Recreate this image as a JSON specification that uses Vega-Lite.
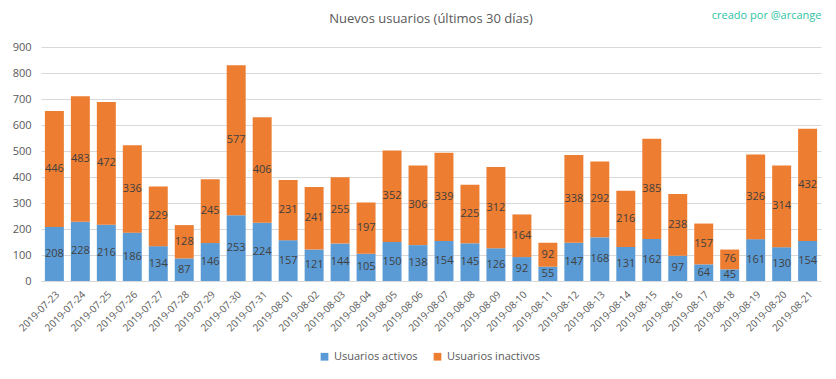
{
  "$schema": "https://vega.github.io/schema/vega-lite/v6.json",
  "autosize": {"type": "none"},
  "width": 780,
  "height": 234,
  "padding": {"left": 41, "top": 47, "right": 15, "bottom": 98},
  "background": "white",
  "title": {
    "text": "Nuevos usuarios (últimos 30 días)",
    "anchor": "middle",
    "font": "Open Sans",
    "fontSize": 13,
    "fontWeight": "normal",
    "color": "#595959",
    "offset": -17
  },
  "data": {
    "values": [
      {"date": "2019-07-23", "Usuarios activos": 208, "Usuarios inactivos": 446},
      {"date": "2019-07-24", "Usuarios activos": 228, "Usuarios inactivos": 483},
      {"date": "2019-07-25", "Usuarios activos": 216, "Usuarios inactivos": 472},
      {"date": "2019-07-26", "Usuarios activos": 186, "Usuarios inactivos": 336},
      {"date": "2019-07-27", "Usuarios activos": 134, "Usuarios inactivos": 229},
      {"date": "2019-07-28", "Usuarios activos": 87, "Usuarios inactivos": 128},
      {"date": "2019-07-29", "Usuarios activos": 146, "Usuarios inactivos": 245},
      {"date": "2019-07-30", "Usuarios activos": 253, "Usuarios inactivos": 577},
      {"date": "2019-07-31", "Usuarios activos": 224, "Usuarios inactivos": 406},
      {"date": "2019-08-01", "Usuarios activos": 157, "Usuarios inactivos": 231},
      {"date": "2019-08-02", "Usuarios activos": 121, "Usuarios inactivos": 241},
      {"date": "2019-08-03", "Usuarios activos": 144, "Usuarios inactivos": 255},
      {"date": "2019-08-04", "Usuarios activos": 105, "Usuarios inactivos": 197},
      {"date": "2019-08-05", "Usuarios activos": 150, "Usuarios inactivos": 352},
      {"date": "2019-08-06", "Usuarios activos": 138, "Usuarios inactivos": 306},
      {"date": "2019-08-07", "Usuarios activos": 154, "Usuarios inactivos": 339},
      {"date": "2019-08-08", "Usuarios activos": 145, "Usuarios inactivos": 225},
      {"date": "2019-08-09", "Usuarios activos": 126, "Usuarios inactivos": 312},
      {"date": "2019-08-10", "Usuarios activos": 92, "Usuarios inactivos": 164},
      {"date": "2019-08-11", "Usuarios activos": 55, "Usuarios inactivos": 92},
      {"date": "2019-08-12", "Usuarios activos": 147, "Usuarios inactivos": 338},
      {"date": "2019-08-13", "Usuarios activos": 168, "Usuarios inactivos": 292},
      {"date": "2019-08-14", "Usuarios activos": 131, "Usuarios inactivos": 216},
      {"date": "2019-08-15", "Usuarios activos": 162, "Usuarios inactivos": 385},
      {"date": "2019-08-16", "Usuarios activos": 97, "Usuarios inactivos": 238},
      {"date": "2019-08-17", "Usuarios activos": 64, "Usuarios inactivos": 157},
      {"date": "2019-08-18", "Usuarios activos": 45, "Usuarios inactivos": 76},
      {"date": "2019-08-19", "Usuarios activos": 161, "Usuarios inactivos": 326},
      {"date": "2019-08-20", "Usuarios activos": 130, "Usuarios inactivos": 314},
      {"date": "2019-08-21", "Usuarios activos": 154, "Usuarios inactivos": 432}
    ]
  },
  "transform": [
    {"fold": ["Usuarios activos", "Usuarios inactivos"], "as": ["tipo", "valor"]},
    {"stack": "valor", "groupby": ["date"], "sort": [{"field": "tipo"}], "as": ["y0", "y1"]},
    {"calculate": "(datum.y0 + datum.y1) / 2", "as": "ymid"}
  ],
  "encoding": {
    "x": {
      "field": "date",
      "type": "ordinal",
      "title": null,
      "scale": {"paddingInner": 0.27, "paddingOuter": 0.15},
      "axis": {
        "labelAngle": -45,
        "labelFont": "Open Sans",
        "labelFontSize": 10,
        "labelColor": "#595959",
        "ticks": false,
        "domainColor": "#d9d9d9",
        "labelPadding": 8
      }
    }
  },
  "layer": [
    {
      "mark": {"type": "bar"},
      "encoding": {
        "y": {
          "field": "y1",
          "type": "quantitative",
          "title": null,
          "scale": {"domain": [0, 900], "nice": false},
          "axis": {
            "values": [0, 100, 200, 300, 400, 500, 600, 700, 800, 900],
            "labelOverlap": false,
            "domain": false,
            "ticks": false,
            "gridColor": "#d9d9d9",
            "labelFont": "Open Sans",
            "labelFontSize": 11,
            "labelColor": "#595959",
            "labelPadding": 10
          }
        },
        "y2": {"field": "y0"},
        "color": {
          "field": "tipo",
          "type": "nominal",
          "scale": {"domain": ["Usuarios activos", "Usuarios inactivos"], "range": ["#5b9bd5", "#ed7d31"]},
          "legend": {
            "title": null,
            "orient": "none",
            "legendX": 278,
            "legendY": 304,
            "direction": "horizontal",
            "symbolType": "square",
            "symbolSize": 60,
            "symbolStrokeWidth": 0,
            "labelFont": "Open Sans",
            "labelFontSize": 11,
            "labelColor": "#595959",
            "columnPadding": 14
          }
        }
      }
    },
    {
      "mark": {"type": "text", "font": "Open Sans", "fontSize": 11, "color": "#404040", "baseline": "middle"},
      "encoding": {
        "y": {
          "field": "ymid",
          "type": "quantitative",
          "title": null,
          "scale": {"domain": [0, 900], "nice": false},
          "axis": {
            "values": [0, 100, 200, 300, 400, 500, 600, 700, 800, 900],
            "labelOverlap": false,
            "domain": false,
            "ticks": false,
            "gridColor": "#d9d9d9",
            "labelFont": "Open Sans",
            "labelFontSize": 11,
            "labelColor": "#595959",
            "labelPadding": 10
          }
        },
        "text": {"field": "valor", "type": "quantitative"},
        "x": {
          "field": "date",
          "type": "ordinal",
          "axis": {
            "orient": "top",
            "labels": false,
            "ticks": false,
            "domain": false,
            "grid": false,
            "title": "creado por @arcange",
            "titleAnchor": "end",
            "titleColor": "#2ec4a4",
            "titleFont": "Open Sans",
            "titleFontSize": 11,
            "titleFontWeight": "normal",
            "titlePadding": 27
          }
        }
      }
    }
  ],
  "resolve": {"axis": {"x": "independent"}},
  "config": {"view": {"stroke": null}}
}
